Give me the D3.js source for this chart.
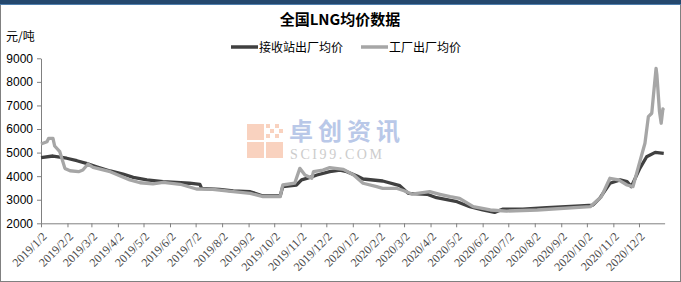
<!DOCTYPE html>
<html>
<head>
<meta charset="utf-8">
<script src="https://cdn.jsdelivr.net/npm/d3@7"></script>
<style>
  body { margin: 0; background: #fff; }
  svg { display: block; }
</style>
</head>
<body>
<div id="chart"></div>
<script>
// 接收站出厂均价
var receiveDates = ["2019-01-02","2019-01-16","2019-02-01","2019-02-13","2019-02-24","2019-03-08","2019-03-24","2019-04-08","2019-04-20","2019-05-06","2019-05-25","2019-06-25","2019-07-07","2019-07-09","2019-07-30","2019-08-15","2019-09-04","2019-09-19","2019-10-09","2019-10-12","2019-10-28","2019-11-03","2019-11-13","2019-11-21","2019-12-06","2019-12-18","2019-12-26","2020-01-07","2020-01-14","2020-02-06","2020-02-26","2020-03-07","2020-03-29","2020-04-09","2020-05-03","2020-05-18","2020-06-02","2020-06-16","2020-06-26","2020-07-19","2020-08-16","2020-09-24","2020-10-09","2020-10-17","2020-10-29","2020-11-10","2020-11-18","2020-11-23","2020-12-03","2020-12-11","2020-12-21","2020-12-31"];
var receiveValues = [4785,4855,4760,4655,4545,4400,4220,4090,3950,3840,3765,3700,3655,3485,3440,3370,3340,3160,3160,3555,3625,3840,3950,4050,4190,4260,4190,4010,3880,3795,3595,3270,3230,3085,2915,2705,2565,2465,2605,2605,2660,2735,2775,3060,3700,3840,3765,3555,4330,4825,5010,4970];

// 工厂出厂均价
var factoryDates = ["2019-01-02","2019-01-09","2019-01-11","2019-01-16","2019-01-18","2019-01-24","2019-01-30","2019-02-05","2019-02-15","2019-02-20","2019-02-26","2019-03-04","2019-03-24","2019-04-16","2019-04-28","2019-05-13","2019-05-25","2019-06-14","2019-07-03","2019-07-22","2019-08-15","2019-09-04","2019-09-19","2019-10-09","2019-10-12","2019-10-26","2019-11-01","2019-11-07","2019-11-15","2019-11-17","2019-11-28","2019-12-06","2019-12-22","2020-01-03","2020-01-14","2020-01-30","2020-02-06","2020-02-22","2020-03-02","2020-03-11","2020-04-01","2020-04-13","2020-04-25","2020-05-06","2020-05-22","2020-06-11","2020-06-30","2020-08-05","2020-10-06","2020-10-19","2020-10-29","2020-11-08","2020-11-18","2020-11-25","2020-12-03","2020-12-09","2020-12-13","2020-12-17","2020-12-19","2020-12-22","2020-12-23","2020-12-26","2020-12-28","2020-12-30","2020-12-31"];
var factoryValues = [5365,5460,5605,5605,5280,5040,4330,4230,4190,4260,4515,4375,4190,3840,3720,3670,3740,3655,3455,3440,3340,3270,3130,3130,3625,3700,4330,4050,3910,4190,4260,4360,4290,4050,3700,3555,3485,3485,3380,3240,3340,3230,3130,3060,2705,2565,2520,2565,2705,3130,3910,3840,3625,3555,4615,5395,6525,6670,7445,8575,8290,6740,6245,6850,6800];

var yTicks = [2000,3000,4000,5000,6000,7000,8000,9000];
var xTickDates = ["2019/1/2","2019/2/2","2019/3/2","2019/4/2","2019/5/2","2019/6/2","2019/7/2","2019/8/2","2019/9/2","2019/10/2","2019/11/2","2019/12/2",
  "2020/1/2","2020/2/2","2020/3/2","2020/4/2","2020/5/2","2020/6/2","2020/7/2","2020/8/2","2020/9/2","2020/10/2","2020/11/2","2020/12/2"];

var width = 681, height = 282;
var parse = d3.timeParse("%Y-%m-%d");
var parseTick = d3.timeParse("%Y/%m/%d");

var svg = d3.select("#chart").append("svg")
  .attr("width", width).attr("height", height);

// frame + top band
svg.append("rect").attr("x", 0.5).attr("y", 0.5).attr("width", width - 1).attr("height", height - 1)
  .attr("fill", "#fff").attr("stroke", "#808080");
svg.append("rect").attr("x", 0).attr("y", 0).attr("width", width).attr("height", 4).attr("fill", "#24486e");
svg.append("rect").attr("x", 0).attr("y", 4).attr("width", width).attr("height", 1).attr("fill", "#4f7fae");

var x = d3.scaleTime()
  .domain([parse("2019-01-02"), parse("2021-01-01")])
  .range([41, 664.6]);
var y = d3.scaleLinear().domain([2000, 9000]).range([223.3, 58.3]);

// watermark
var wm = svg.append("g");
var logo = wm.append("g").attr("fill", "#f9d2bf");
logo.append("rect").attr("x", 247).attr("y", 142).attr("width", 17).attr("height", 16);
logo.append("rect").attr("x", 266).attr("y", 142).attr("width", 17).attr("height", 16);
logo.append("rect").attr("x", 247).attr("y", 124).attr("width", 17).attr("height", 16);
[[266,124],[275,124],[270,129],[279,129],[266,134],[275,134]].forEach(function(p){
  logo.append("rect").attr("x", p[0]).attr("y", p[1]).attr("width", 4).attr("height", 4);
});
wm.append("text").attr("x", 289).attr("y", 140)
  .attr("font-family", "Noto Sans CJK SC").attr("font-size", 24).attr("font-weight", "bold")
  .attr("letter-spacing", 5).attr("fill", "#b9c8e8").text("卓创资讯");
wm.append("text").attr("x", 290).attr("y", 159)
  .attr("font-family", "Liberation Serif").attr("font-size", 14)
  .attr("letter-spacing", 2.6).attr("fill", "#cccccc").text("SCI99.COM");

// title
svg.append("text").attr("x", 340).attr("y", 25).attr("text-anchor", "middle")
  .attr("font-family", "Noto Sans CJK SC").attr("font-weight", "bold").attr("font-size", 15)
  .attr("fill", "#000").text("全国LNG均价数据");

svg.append("text").attr("x", 6).attr("y", 41)
  .attr("font-family", "Noto Sans CJK SC").attr("font-size", 12).attr("fill", "#000").text("元/吨");

// legend
var legend = [{name: "接收站出厂均价", color: "#404040", x: 231}, {name: "工厂出厂均价", color: "#a6a6a6", x: 361}];
var lg = svg.selectAll(".lg").data(legend).enter().append("g")
  .attr("transform", function(d) { return "translate(" + d.x + ",47)"; });
lg.append("line").attr("x1", 0).attr("x2", 27).attr("y1", 0).attr("y2", 0)
  .attr("stroke", function(d) { return d.color; }).attr("stroke-width", 3.5);
lg.append("text").attr("x", 28).attr("y", 4.5)
  .attr("font-family", "Noto Sans CJK SC").attr("font-size", 12).attr("fill", "#000")
  .text(function(d) { return d.name; });

// y axis
var yAxis = svg.append("g").attr("transform", "translate(41,0)")
  .call(d3.axisLeft(y).tickValues(yTicks).tickSize(4).tickSizeOuter(0).tickFormat(d3.format("d")));
yAxis.select(".domain").attr("stroke", "#808080");
yAxis.selectAll(".tick line").attr("stroke", "#808080");
yAxis.selectAll(".tick text").attr("font-family", "Liberation Sans").attr("font-size", 12)
  .attr("fill", "#000").attr("x", -8);

// x axis
var xAxis = svg.append("g").attr("transform", "translate(0,223.3)")
  .call(d3.axisBottom(x).tickValues(xTickDates.map(parseTick)).tickSize(4).tickSizeOuter(0)
    .tickFormat(function(d, i) { return xTickDates[i]; }));
xAxis.select(".domain").attr("stroke", "#808080");
xAxis.selectAll(".tick line").attr("stroke", "#808080");
xAxis.selectAll(".tick text")
  .attr("font-family", "Liberation Serif").attr("font-size", 12).attr("fill", "#4a4a4a")
  .attr("text-anchor", "end").attr("y", 0).attr("dy", 0)
  .attr("transform", "translate(6,14) rotate(-45)");

// lines
var line = d3.line()
  .x(function(d) { return x(d.date); })
  .y(function(d) { return y(d.value); });

var receive = receiveDates.map(function(d, i) { return {date: parse(d), value: receiveValues[i]}; });
var factory = factoryDates.map(function(d, i) { return {date: parse(d), value: factoryValues[i]}; });

svg.append("path").datum(receive).attr("d", line)
  .attr("fill", "none").attr("stroke", "#404040").attr("stroke-width", 3.3).attr("stroke-linejoin", "round");
svg.append("path").datum(factory).attr("d", line)
  .attr("fill", "none").attr("stroke", "#a6a6a6").attr("stroke-width", 3.3).attr("stroke-linejoin", "round");
</script>
</body>
</html>
